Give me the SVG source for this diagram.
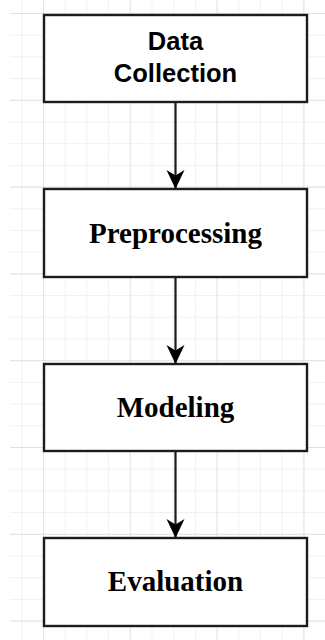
<svg xmlns="http://www.w3.org/2000/svg" width="325" height="640" viewBox="0 0 325 640">
  <defs>
    <!-- light drawing grid: minor cells with a darker line every fourth cell -->
    <pattern id="gridMinor" patternUnits="userSpaceOnUse" x="21.3" y="13" width="21.7" height="21.7">
      <path d="M0 0H21.7M0 0V21.7" fill="none" stroke="#ebebeb" stroke-width="1.3"/>
    </pattern>
    <pattern id="gridMajor" patternUnits="userSpaceOnUse" x="43" y="13" width="86.8" height="86.8">
      <path d="M0 0H86.8M0 0V86.8" fill="none" stroke="#dcdcdc" stroke-width="1.3"/>
    </pattern>
    <marker id="arrow" markerUnits="userSpaceOnUse" markerWidth="22" markerHeight="22" viewBox="0 0 22 22" refX="20" refY="11" orient="auto">
      <path d="M20 11 L1 2 L6.5 11 L1 20 Z" fill="#000"/>
    </marker>
    <style>
      .box { fill: #fff; stroke: #1c1c1c; stroke-width: 2.4; }
      .sans { font-family: "Liberation Sans", Arial, sans-serif; font-weight: bold; font-size: 25.5px; fill: #000; text-anchor: middle; }
      .serif { font-family: "Liberation Serif", "Times New Roman", serif; font-weight: bold; font-size: 29px; fill: #000; text-anchor: middle; }
      .edge { stroke: #1c1c1c; stroke-width: 2.2; fill: none; marker-end: url(#arrow); }
    </style>
  </defs>

  <rect width="325" height="640" fill="#fff"/>
  <rect x="10" y="0" width="315" height="640" fill="url(#gridMinor)"/>
  <rect x="10" y="0" width="315" height="640" fill="url(#gridMajor)"/>

  <g id="connectors">
    <path class="edge" d="M175.5 102 V189"/>
    <path class="edge" d="M175.5 277 V364"/>
    <path class="edge" d="M175.5 451 V538"/>
  </g>

  <g id="data-collection">
    <rect class="box" x="44" y="15" width="263" height="87"/>
    <text class="sans" x="175.5" y="50">Data</text>
    <text class="sans" x="175.5" y="82">Collection</text>
  </g>

  <g id="preprocessing">
    <rect class="box" x="44" y="189" width="263" height="88"/>
    <text class="serif" x="175.5" y="243">Preprocessing</text>
  </g>

  <g id="modeling">
    <rect class="box" x="44" y="364" width="263" height="87"/>
    <text class="serif" x="175.5" y="417">Modeling</text>
  </g>

  <g id="evaluation">
    <rect class="box" x="44" y="538" width="263" height="88"/>
    <text class="serif" x="175.5" y="591">Evaluation</text>
  </g>
</svg>
